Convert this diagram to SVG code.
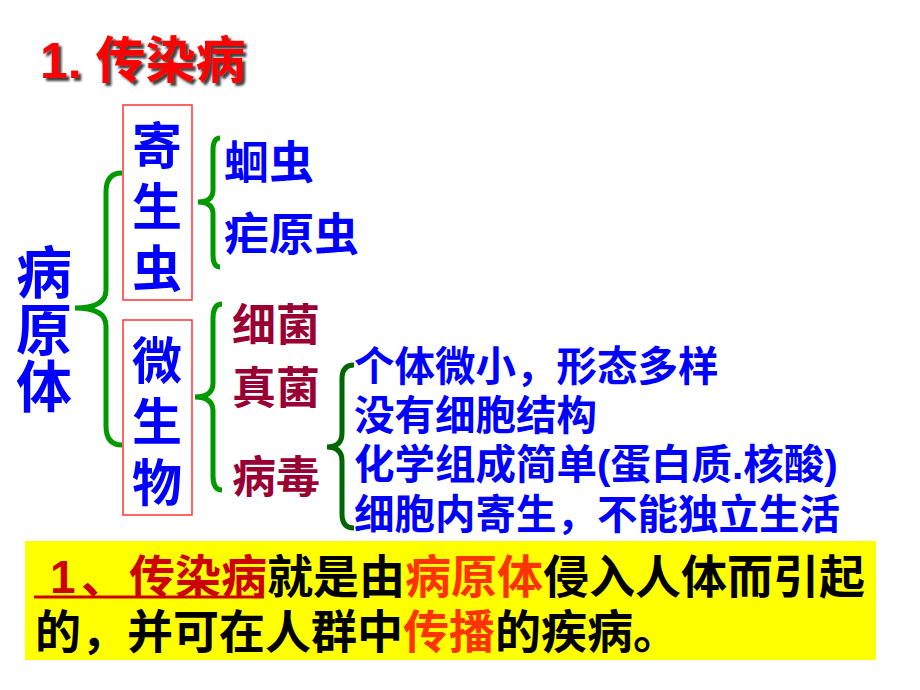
<svg xmlns="http://www.w3.org/2000/svg" width="920" height="690" viewBox="0 0 920 690">
<defs>
<style>
text{font-family:"Liberation Sans","Noto Sans CJK SC",sans-serif;font-weight:bold}
.blue{fill:#0000ff}
.dred{fill:#990033}
.brace{fill:none;stroke:#009900;stroke-width:5;stroke-linecap:butt;stroke-linejoin:miter}
.brace2{fill:none;stroke:#006600;stroke-width:5;stroke-linecap:butt;stroke-linejoin:miter}
.box{fill:none;stroke:#ff3333;stroke-width:1.5}
.v56{font-size:56px;text-anchor:middle}
.v50{font-size:50px;text-anchor:middle}
.t45{font-size:45px}
.t44{font-size:44px}
.t40{font-size:40.5px}
.def{font-size:46px;fill:#000000}
</style>
<filter id="shadow" x="-10%" y="-20%" width="130%" height="150%">
<feDropShadow dx="3" dy="3" stdDeviation="1.2" flood-color="#222222" flood-opacity="0.85"/>
</filter>
</defs>
<rect width="920" height="690" fill="#ffffff"/>

<g id="title">
<text x="40" y="78" style="font-size:50px;fill:#ff0000" filter="url(#shadow)">1. 传染病</text>
</g>

<g id="node-pathogen">
<text class="blue v56" x="44" y="293">病</text>
<text class="blue v56" x="44" y="350">原</text>
<text class="blue v56" x="44" y="407">体</text>
</g>

<g id="node-parasite">
<rect class="box" x="123" y="105" width="69" height="195"/>
<text class="blue v50" x="157" y="164">寄</text>
<text class="blue v50" x="157" y="225">生</text>
<text class="blue v50" x="157" y="287">虫</text>
</g>

<g id="node-microbe">
<rect class="box" x="123" y="320" width="69" height="195"/>
<text class="blue v50" x="157" y="379">微</text>
<text class="blue v50" x="157" y="440">生</text>
<text class="blue v50" x="157" y="501">物</text>
</g>

<g id="node-roundworm"><text class="blue t45" x="224" y="179">蛔虫</text></g>
<g id="node-plasmodium"><text class="blue t45" x="224" y="251">疟原虫</text></g>

<g id="node-bacteria"><text class="dred t44" x="232" y="341">细菌</text></g>
<g id="node-fungi"><text class="dred t44" x="232" y="404">真菌</text></g>
<g id="node-virus"><text class="dred t44" x="232" y="493">病毒</text></g>

<g id="node-virus-traits">
<text class="blue t40" x="354" y="381">个体微小，形态多样</text>
<text class="blue t40" x="354" y="430">没有细胞结构</text>
<text class="blue t40" x="354" y="479">化学组成简单(蛋白质.核酸)</text>
<text class="blue t40" x="354" y="529">细胞内寄生，不能独立生活</text>
</g>

<g id="connectors">
<path class="brace" d="M122 173 Q106 173 106 192 L106 290 Q106 308 75 308 Q106 308 106 326 L106 426 Q106 445 122 445"/>
<path class="brace" d="M220 138 Q213 138 213 150 L213 190 Q213 202 198 202 Q213 202 213 214 L213 255 Q213 267 220 267"/>
<path class="brace" d="M222 304 Q213 304 213 318 L213 383 Q213 397 195 397 Q213 397 213 411 L213 476 Q213 490 222 490"/>
<path class="brace2" d="M354 365 Q342 365 342 379 L342 433 Q342 447 327 447 Q342 447 342 461 L342 514 Q342 528 354 528"/>
</g>

<g id="definition">
<rect x="25" y="541" width="851" height="119" fill="#ffff00"/>
<line x1="34" y1="597" x2="264" y2="597" stroke="#cc0000" stroke-width="3"/>
<text class="def" y="593"><tspan x="50" fill="#cc0000">1</tspan><tspan x="81" fill="#cc0000">、</tspan><tspan x="129" fill="#cc0000">传染病</tspan><tspan>就是由</tspan><tspan fill="#ff3300">病原体</tspan><tspan>侵入人体而引起</tspan></text>
<text class="def" x="35" y="648">的，并可在人群中<tspan fill="#ff3300">传播</tspan>的疾病。</text>
</g>
</svg>
